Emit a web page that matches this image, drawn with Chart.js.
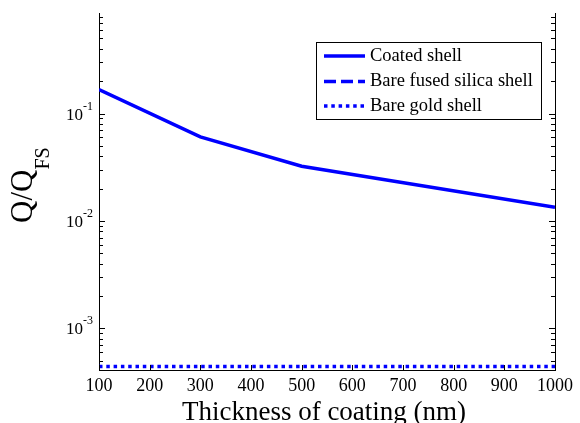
<!DOCTYPE html>
<html>
<head>
<meta charset="utf-8">
<script src="https://cdn.jsdelivr.net/npm/chart.js@4.4.0/dist/chart.umd.min.js"></script>
<style>
  html, body { margin: 0; padding: 0; background: #fff; }
  #wrap { width: 580px; height: 423px; }
</style>
</head>
<body>
<div id="wrap"><canvas id="qChart" width="580" height="423"></canvas></div>
<script>
// Data
const thickness = [100, 300, 500, 1000];
const coatedShell = [0.167, 0.0605, 0.0323, 0.0134];
const bareSilicaShell = [1, 1, 1, 1];          // Q/Q_FS = 1, sits above the visible range
const bareGoldShell = [4.4e-4, 4.4e-4, 4.4e-4, 4.4e-4];

const xTicks = [100, 200, 300, 400, 500, 600, 700, 800, 900, 1000];
const yDecades = [-3, -2, -1];
const yMin = 4.09e-4;
const yMax = 0.863;

const SERIF = "'Liberation Serif', 'Times New Roman', serif";
const BLUE = '#0000ff';

function toPoints(xs, ys) {
  return xs.map((x, i) => ({ x: x, y: ys[i] }));
}

// Axis ticks, tick labels, titles, right border and legend (MATLAB look)
const matlabAxes = {
  id: 'matlabAxes',
  afterDraw(chart) {
    const ctx = chart.ctx;
    const area = chart.chartArea;
    const xs = chart.scales.x;
    const ys = chart.scales.y;

    ctx.save();
    ctx.strokeStyle = '#000';
    ctx.fillStyle = '#000';
    ctx.lineWidth = 1;

    // right border
    ctx.beginPath();
    ctx.moveTo(area.right + 0.5, area.top);
    ctx.lineTo(area.right + 0.5, area.bottom);
    ctx.stroke();

    // x ticks (inward, bottom only)
    xTicks.forEach(v => {
      const px = Math.round(xs.getPixelForValue(v)) + 0.5;
      ctx.beginPath();
      ctx.moveTo(px, area.bottom);
      ctx.lineTo(px, area.bottom - 5);
      ctx.stroke();
    });

    // y major and minor ticks on both sides
    for (let d = -4; d <= 0; d++) {
      for (let m = 1; m <= 9; m++) {
        const v = m * Math.pow(10, d);
        if (v < yMin || v > yMax) continue;
        const py = Math.round(ys.getPixelForValue(v)) + 0.5;
        const len = m === 1 ? 6 : 4;
        ctx.beginPath();
        ctx.moveTo(area.left, py);
        ctx.lineTo(area.left + len, py);
        ctx.moveTo(area.right, py);
        ctx.lineTo(area.right - len, py);
        ctx.stroke();
      }
    }

    // y tick labels 10^n
    yDecades.forEach(e => {
      const py = ys.getPixelForValue(Math.pow(10, e));
      ctx.font = '17px ' + SERIF;
      ctx.textAlign = 'left';
      ctx.textBaseline = 'alphabetic';
      const baseX = 66;
      ctx.fillText('10', baseX, py + 6);
      const w = ctx.measureText('10').width;
      ctx.font = '12px ' + SERIF;
      ctx.fillText('-' + Math.abs(e), baseX + w, py - 4);
    });

    // x title
    ctx.font = '27px ' + SERIF;
    ctx.textAlign = 'center';
    ctx.textBaseline = 'alphabetic';
    ctx.fillText('Thickness of coating (nm)', (area.left + area.right) / 2 - 3, 420);

    // y title Q/Q_FS, rotated
    ctx.save();
    ctx.translate(32, 223);
    ctx.rotate(-Math.PI / 2);
    ctx.textAlign = 'left';
    ctx.font = '31px ' + SERIF;
    ctx.fillText('Q/Q', 0, 0);
    const qw = ctx.measureText('Q/Q').width;
    ctx.font = '20px ' + SERIF;
    ctx.fillText('FS', qw, 17);
    ctx.restore();

    // legend
    const lx = 316.5, ly = 42.5, lw = 225, lh = 77;
    ctx.fillStyle = '#fff';
    ctx.fillRect(lx, ly, lw, lh);
    ctx.strokeStyle = '#000';
    ctx.lineWidth = 1;
    ctx.strokeRect(lx, ly, lw, lh);
    const rows = [56, 81.5, 106];
    chart.data.datasets.forEach((ds, i) => {
      const ry = rows[i];
      ctx.save();
      ctx.strokeStyle = ds.borderColor;
      ctx.lineWidth = ds.borderWidth;
      ctx.setLineDash(ds.legendDash || []);
      ctx.beginPath();
      ctx.moveTo(324, ry);
      ctx.lineTo(365, ry);
      ctx.stroke();
      ctx.restore();
      ctx.fillStyle = '#000';
      ctx.font = '18.5px ' + SERIF;
      ctx.textAlign = 'left';
      ctx.textBaseline = 'middle';
      ctx.fillText(ds.label, 370, ry);
    });

    ctx.restore();
  }
};

new Chart(document.getElementById('qChart'), {
  type: 'line',
  data: {
    datasets: [
      {
        label: 'Coated shell',
        data: toPoints(thickness, coatedShell),
        borderColor: BLUE,
        borderWidth: 3.5,
        pointRadius: 0,
        tension: 0
      },
      {
        label: 'Bare fused silica shell',
        data: toPoints(thickness, bareSilicaShell),
        borderColor: BLUE,
        borderWidth: 3.5,
        borderDash: [12, 5],
        legendDash: [12, 5],
        pointRadius: 0,
        tension: 0
      },
      {
        label: 'Bare gold shell',
        data: toPoints(thickness, bareGoldShell),
        borderColor: BLUE,
        borderWidth: 3.5,
        borderDash: [3.5, 3.8],
        legendDash: [3.5, 3.8],
        pointRadius: 0,
        tension: 0
      }
    ]
  },
  options: {
    responsive: false,
    animation: false,
    layout: { padding: { top: 13, right: 25, left: 0, bottom: 0 } },
    plugins: {
      legend: { display: false },
      tooltip: { enabled: false }
    },
    scales: {
      x: {
        type: 'linear',
        min: 100,
        max: 1000,
        afterFit: s => { s.height = 53; },
        afterBuildTicks: s => { s.ticks = xTicks.map(v => ({ value: v })); },
        grid: { display: false, drawTicks: false },
        border: { display: true, color: '#000', width: 1 },
        ticks: {
          color: '#000',
          padding: 5,
          maxRotation: 0,
          autoSkip: false,
          font: { family: SERIF, size: 18 },
          callback: v => String(v)
        }
      },
      y: {
        type: 'logarithmic',
        min: yMin,
        max: yMax,
        afterFit: s => { s.width = 99; },
        grid: { display: false, drawTicks: false },
        border: { display: true, color: '#000', width: 1 },
        ticks: { display: false }
      }
    }
  },
  plugins: [matlabAxes]
});
</script>
</body>
</html>
